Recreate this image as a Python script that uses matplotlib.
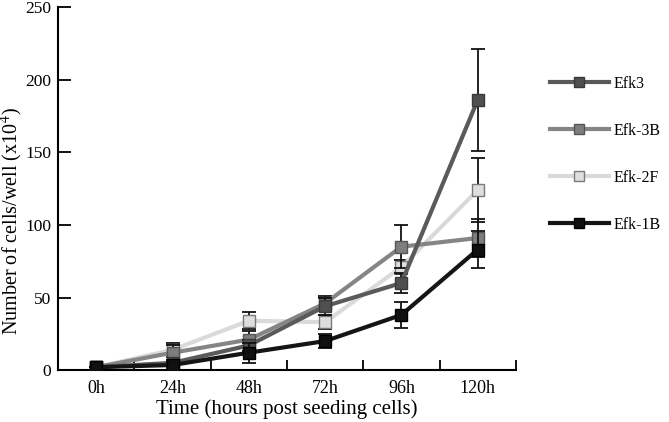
import numpy as np
import matplotlib.pyplot as plt

# === DATA ===
time_labels = ['0h', '24h', '48h', '72h', '96h', '120h']
series_names = ['Efk3', 'Efk-3B', 'Efk-2F', 'Efk-1B']

efk3 = [2, 5, 17, 44, 60, 186]
efk3_err = [0, 2, 4, 6, 7, 35]
efk3b = [2, 12, 21, 46, 85, 91]
efk3b_err = [0, 5, 6, 5, 15, 13]
efk2f = [2, 14, 34, 33, 71, 124]
efk2f_err = [0, 5, 6, 5, 5, 22]
efk1b = [2, 3.5, 12, 20, 38, 83]
efk1b_err = [0, 2, 7, 5, 9, 13]

# === STYLE ===
plt.rcParams['font.family'] = ['Liberation Serif', 'DejaVu Serif']
plt.rcParams['mathtext.fontset'] = 'stix'

line_colors = ['#5a5a5a', '#858585', '#dadada', '#151515']
face_colors = ['#4f4f4f', '#7e7e7e', '#dedede', '#101010']
edge_colors = ['#3a3a3a', '#555555', '#7a7a7a', '#000000']

values = [efk3, efk3b, efk2f, efk1b]
errors = [efk3_err, efk3b_err, efk2f_err, efk1b_err]
zorders = [4, 3, 2, 5]

fig = plt.figure(figsize=(6.69, 4.22), dpi=100)
ax = fig.add_axes([0.087, 0.123, 0.684, 0.86])

x = np.arange(len(time_labels))
for name, vals, errs, lc, fc, ec, z in zip(series_names, values, errors,
                                            line_colors, face_colors, edge_colors, zorders):
    ax.errorbar(x, vals, yerr=errs, fmt='none', ecolor='#111111', elinewidth=1.3,
                capsize=5, capthick=1.3, zorder=z)
    ax.plot(x, vals, '-', color=lc, linewidth=3, marker='s', markersize=9,
            markerfacecolor=fc, markeredgecolor=ec, markeredgewidth=1,
            label=name, zorder=z + 0.5)

ax.set_xlim(-0.5, 5.5)
ax.set_ylim(0, 250)
ax.set_yticks(np.arange(0, 251, 50))
ax.set_xticks(np.arange(0.5, 6, 1))
ax.set_xticklabels([])
ax.set_xticks(x, minor=True)
ax.set_xticklabels(time_labels, minor=True)
ax.tick_params(axis='x', which='major', direction='in', length=7, width=1.3)
ax.tick_params(axis='x', which='minor', length=0, labelsize=13, pad=7)
ax.tick_params(axis='y', direction='in', length=9, width=1.3, labelsize=12.5, pad=5)

for side in ['top', 'right']:
    ax.spines[side].set_visible(False)
for side in ['left', 'bottom']:
    ax.spines[side].set_linewidth(1.5)

ax.set_xlabel('Time (hours post seeding cells)', fontsize=15, labelpad=2)
ax.set_ylabel(r'Number of cells/well (x10$^{4}$)', fontsize=14.5)
ax.yaxis.set_label_coords(-0.072, 0.41)

fig.legend(loc='upper left', bbox_to_anchor=(0.80, 0.855), frameon=False,
           fontsize=11.5, handlelength=3.7, labelspacing=1.95, handletextpad=0.3,
           markerscale=0.85)

plt.savefig('out.png', dpi=100)
